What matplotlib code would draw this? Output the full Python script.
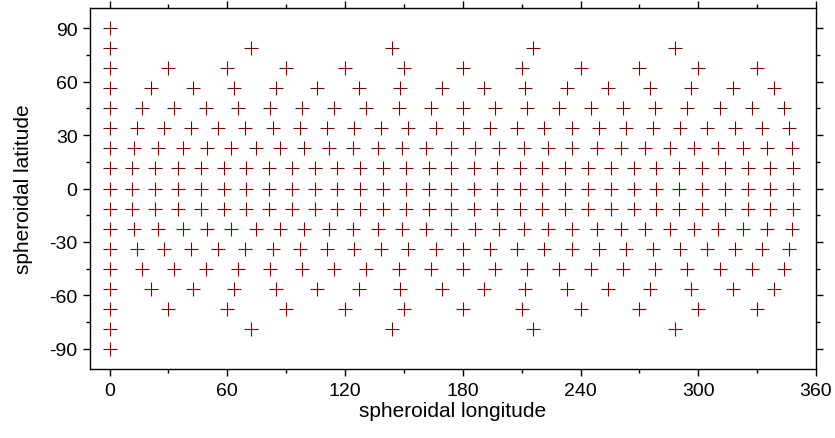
import matplotlib
matplotlib.use("Agg")
import matplotlib.pyplot as plt
from matplotlib.ticker import MultipleLocator

plt.rcParams['font.family'] = ['Liberation Sans', 'DejaVu Sans']
plt.rcParams['axes.unicode_minus'] = False

# longitudes (deg) of grid points on each latitude ring
lon_pole = [0]
lon_78 = [0, 72, 144, 216, 288]
lon_67 = [0, 30, 60, 90, 120, 150, 180, 210, 240, 270, 300, 330]
lon_56 = [0, 21.2, 42.4, 63.5, 84.7, 105.9, 127.1, 148.2, 169.4, 190.6, 211.8,
          232.9, 254.1, 275.3, 296.5, 317.6, 338.8]
lon_45 = [0, 16.4, 32.7, 49.1, 65.5, 81.8, 98.2, 114.5, 130.9, 147.3, 163.6, 180,
          196.4, 212.7, 229.1, 245.5, 261.8, 278.2, 294.5, 310.9, 327.3, 343.6]
lon_33 = [0, 13.8, 27.7, 41.5, 55.4, 69.2, 83.1, 96.9, 110.8, 124.6, 138.5, 152.3,
          166.2, 180, 193.8, 207.7, 221.5, 235.4, 249.2, 263.1, 276.9, 290.8,
          304.6, 318.5, 332.3, 346.2]
lon_22 = [0, 12.4, 24.8, 37.2, 49.7, 62.1, 74.5, 86.9, 99.3, 111.7, 124.1, 136.6,
          149.0, 161.4, 173.8, 186.2, 198.6, 211.0, 223.4, 235.9, 248.3, 260.7,
          273.1, 285.5, 297.9, 310.3, 322.8, 335.2, 347.6]
lon_11 = [0, 11.6, 23.2, 34.8, 46.5, 58.1, 69.7, 81.3, 92.9, 104.5, 116.1, 127.7,
          139.4, 151.0, 162.6, 174.2, 185.8, 197.4, 209.0, 220.6, 232.3, 243.9,
          255.5, 267.1, 278.7, 290.3, 301.9, 313.5, 325.2, 336.8, 348.4]
lon_eq = lon_11

latitudes = [90, 78.75, 67.5, 56.25, 45, 33.75, 22.5, 11.25, 0,
             -11.25, -22.5, -33.75, -45, -56.25, -67.5, -78.75, -90]
rings = [lon_pole, lon_78, lon_67, lon_56, lon_45, lon_33, lon_22, lon_11, lon_eq,
         lon_11, lon_22, lon_33, lon_45, lon_56, lon_67, lon_78, lon_pole]

xs, ys = [], []
for lat, lons in zip(latitudes, rings):
    xs.extend(lons)
    ys.extend([lat] * len(lons))

fig = plt.figure(figsize=(8.35, 4.39), dpi=100)
ax = fig.add_axes([90 / 835, 1 - 370 / 439, (816 - 90) / 835, (370 - 9) / 439])

ax.plot(xs, ys, linestyle='none', marker='+', markersize=9.5,
        markeredgewidth=0.8, color='#7a0606')

ax.set_xlim(-10, 360)
ax.set_ylim(-101.25, 101.25)
ax.xaxis.set_major_locator(MultipleLocator(60))
ax.xaxis.set_minor_locator(MultipleLocator(30))
ax.yaxis.set_major_locator(MultipleLocator(30))
ax.yaxis.set_minor_locator(MultipleLocator(15))
ax.tick_params(which='both', direction='out', top=True, right=True,
               labelsize=14, width=1)
ax.tick_params(which='major', length=5, pad=4)
ax.tick_params(which='minor', length=3)
for s in ax.spines.values():
    s.set_linewidth(1)

ax.set_xlabel('spheroidal longitude', fontsize=15, labelpad=2)
ax.set_ylabel('spheroidal latitude', fontsize=15, labelpad=12)

fig.savefig('out.png', dpi=100)
